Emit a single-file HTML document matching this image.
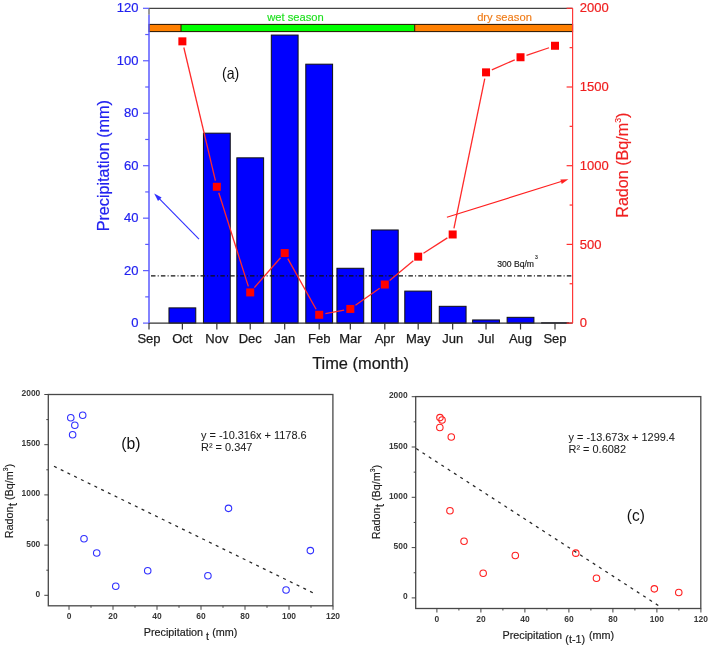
<!DOCTYPE html>
<html><head><meta charset="utf-8"><style>
html,body{margin:0;padding:0;background:#fff;width:709px;height:648px;overflow:hidden}
svg{display:block;will-change:transform}
</style></head><body>
<svg width="709" height="648" viewBox="0 0 709 648">
<rect width="709" height="648" fill="#fff"/>
<rect x="168.97" y="307.88" width="26.8" height="15.22" fill="#0000ff" stroke="#111" stroke-width="1"/>
<rect x="203.45" y="133.17" width="26.8" height="189.93" fill="#0000ff" stroke="#111" stroke-width="1"/>
<rect x="236.82" y="157.83" width="26.8" height="165.27" fill="#0000ff" stroke="#111" stroke-width="1"/>
<rect x="271.30" y="35.06" width="26.8" height="288.04" fill="#0000ff" stroke="#111" stroke-width="1"/>
<rect x="305.79" y="64.18" width="26.8" height="258.92" fill="#0000ff" stroke="#111" stroke-width="1"/>
<rect x="336.93" y="268.27" width="26.8" height="54.83" fill="#0000ff" stroke="#111" stroke-width="1"/>
<rect x="371.41" y="229.97" width="26.8" height="93.13" fill="#0000ff" stroke="#111" stroke-width="1"/>
<rect x="404.78" y="291.10" width="26.8" height="32.00" fill="#0000ff" stroke="#111" stroke-width="1"/>
<rect x="439.27" y="306.31" width="26.8" height="16.79" fill="#0000ff" stroke="#111" stroke-width="1"/>
<rect x="472.64" y="319.95" width="26.8" height="3.15" fill="#0000ff" stroke="#111" stroke-width="1"/>
<rect x="507.12" y="317.33" width="26.8" height="5.77" fill="#0000ff" stroke="#111" stroke-width="1"/>
<rect x="541.60" y="322.79" width="26.8" height="0.31" fill="#0000ff" stroke="#111" stroke-width="1"/>
<rect x="149.0" y="24.4" width="32.0" height="7.200000000000003" fill="#ff8000"/>
<rect x="181" y="24.4" width="233.7" height="7.200000000000003" fill="#00ff00"/>
<rect x="414.7" y="24.4" width="157.90000000000003" height="7.200000000000003" fill="#ff8000"/>
<rect x="149.0" y="24.4" width="423.6" height="7.200000000000003" fill="none" stroke="#221100" stroke-width="1"/>
<line x1="181" y1="24.4" x2="181" y2="31.6" stroke="#221100" stroke-width="1"/>
<line x1="414.7" y1="24.4" x2="414.7" y2="31.6" stroke="#221100" stroke-width="1"/>
<text x="295.5" y="20.7" font-family="Liberation Sans, sans-serif" font-size="11.2" fill="#1ee01e" stroke="#1ee01e" stroke-width="0.15" text-anchor="middle">wet season</text>
<text x="504.5" y="20.6" font-family="Liberation Sans, sans-serif" font-size="11.2" fill="#f07c18" stroke="#f07c18" stroke-width="0.15" text-anchor="middle">dry season</text>
<line x1="151" y1="275.88" x2="572.6" y2="275.88" stroke="#111" stroke-width="1.1" stroke-dasharray="4.5 2.2 1 2.2"/>
<text x="497.2" y="266.7" font-family="Liberation Sans, sans-serif" font-size="8.6" fill="#1c1c1c" stroke="#1c1c1c" stroke-width="0.18">300 Bq/m</text>
<text x="535" y="258.5" font-family="Liberation Sans, sans-serif" font-size="5" fill="#1c1c1c" stroke="#1c1c1c" stroke-width="0.18">3</text>
<line x1="183.82" y1="47.48" x2="215.40" y2="180.66" stroke="#ff2a2a" stroke-width="1.3"/>
<line x1="218.75" y1="192.80" x2="248.32" y2="286.40" stroke="#ff2a2a" stroke-width="1.3"/>
<line x1="254.37" y1="287.67" x2="280.55" y2="257.80" stroke="#ff2a2a" stroke-width="1.3"/>
<line x1="287.78" y1="258.56" x2="316.11" y2="309.26" stroke="#ff2a2a" stroke-width="1.3"/>
<line x1="325.38" y1="313.60" x2="344.14" y2="310.09" stroke="#ff2a2a" stroke-width="1.3"/>
<line x1="355.47" y1="305.30" x2="379.67" y2="288.18" stroke="#ff2a2a" stroke-width="1.3"/>
<line x1="389.65" y1="280.50" x2="413.35" y2="260.71" stroke="#ff2a2a" stroke-width="1.3"/>
<line x1="423.48" y1="253.27" x2="447.37" y2="237.89" stroke="#ff2a2a" stroke-width="1.3"/>
<line x1="453.94" y1="228.31" x2="484.77" y2="78.53" stroke="#ff2a2a" stroke-width="1.3"/>
<line x1="491.81" y1="69.83" x2="514.75" y2="59.78" stroke="#ff2a2a" stroke-width="1.3"/>
<line x1="526.49" y1="55.26" x2="549.02" y2="47.75" stroke="#ff2a2a" stroke-width="1.3"/>
<rect x="178.37" y="37.35" width="8" height="8" fill="#ff0000"/>
<rect x="212.85" y="182.79" width="8" height="8" fill="#ff0000"/>
<rect x="246.22" y="288.41" width="8" height="8" fill="#ff0000"/>
<rect x="280.70" y="249.06" width="8" height="8" fill="#ff0000"/>
<rect x="315.19" y="310.76" width="8" height="8" fill="#ff0000"/>
<rect x="346.33" y="304.93" width="8" height="8" fill="#ff0000"/>
<rect x="380.81" y="280.54" width="8" height="8" fill="#ff0000"/>
<rect x="414.18" y="252.68" width="8" height="8" fill="#ff0000"/>
<rect x="448.67" y="230.48" width="8" height="8" fill="#ff0000"/>
<rect x="482.04" y="68.36" width="8" height="8" fill="#ff0000"/>
<rect x="516.52" y="53.25" width="8" height="8" fill="#ff0000"/>
<rect x="551.00" y="41.76" width="8" height="8" fill="#ff0000"/>
<line x1="199" y1="239.2" x2="159" y2="198.3" stroke="#3030ff" stroke-width="1.1"/>
<polygon points="154.2,193.5 158.0,200.9 161.6,197.4" fill="#3030ff"/>
<line x1="446.9" y1="217.3" x2="562" y2="181.3" stroke="#ff2020" stroke-width="1.1"/>
<polygon points="568.4,179.3 560.4,179.6 561.7,184.0" fill="#ff2020"/>
<text x="222.0" y="78.9" font-family="Liberation Sans, sans-serif" font-size="16.5" fill="#111" textLength="17.3" lengthAdjust="spacingAndGlyphs">(a)</text>
<line x1="149.0" y1="8.3" x2="572.6" y2="8.3" stroke="#444" stroke-width="1.3"/>
<line x1="149.0" y1="323.1" x2="572.6" y2="323.1" stroke="#333" stroke-width="1.3"/>
<line x1="149.0" y1="8.3" x2="149.0" y2="14.8" stroke="#777" stroke-width="1.5"/>
<line x1="149.0" y1="14.8" x2="149.0" y2="323.1" stroke="#5a5aff" stroke-width="1.5"/>
<line x1="572.6" y1="8.3" x2="572.6" y2="323.1" stroke="#ff3838" stroke-width="1.2"/>
<line x1="143.0" y1="323.10" x2="149.0" y2="323.10" stroke="#5a5aff" stroke-width="1.2"/>
<text x="138.5" y="327.20" font-family="Liberation Sans, sans-serif" font-size="13" fill="#2222f0" stroke="#2222f0" stroke-width="0.2" text-anchor="end">0</text>
<line x1="145.2" y1="296.87" x2="149.0" y2="296.87" stroke="#5a5aff" stroke-width="1.2"/>
<line x1="143.0" y1="270.63" x2="149.0" y2="270.63" stroke="#5a5aff" stroke-width="1.2"/>
<text x="138.5" y="274.73" font-family="Liberation Sans, sans-serif" font-size="13" fill="#2222f0" stroke="#2222f0" stroke-width="0.2" text-anchor="end">20</text>
<line x1="145.2" y1="244.40" x2="149.0" y2="244.40" stroke="#5a5aff" stroke-width="1.2"/>
<line x1="143.0" y1="218.17" x2="149.0" y2="218.17" stroke="#5a5aff" stroke-width="1.2"/>
<text x="138.5" y="222.27" font-family="Liberation Sans, sans-serif" font-size="13" fill="#2222f0" stroke="#2222f0" stroke-width="0.2" text-anchor="end">40</text>
<line x1="145.2" y1="191.93" x2="149.0" y2="191.93" stroke="#5a5aff" stroke-width="1.2"/>
<line x1="143.0" y1="165.70" x2="149.0" y2="165.70" stroke="#5a5aff" stroke-width="1.2"/>
<text x="138.5" y="169.80" font-family="Liberation Sans, sans-serif" font-size="13" fill="#2222f0" stroke="#2222f0" stroke-width="0.2" text-anchor="end">60</text>
<line x1="145.2" y1="139.47" x2="149.0" y2="139.47" stroke="#5a5aff" stroke-width="1.2"/>
<line x1="143.0" y1="113.23" x2="149.0" y2="113.23" stroke="#5a5aff" stroke-width="1.2"/>
<text x="138.5" y="117.33" font-family="Liberation Sans, sans-serif" font-size="13" fill="#2222f0" stroke="#2222f0" stroke-width="0.2" text-anchor="end">80</text>
<line x1="145.2" y1="87.00" x2="149.0" y2="87.00" stroke="#5a5aff" stroke-width="1.2"/>
<line x1="143.0" y1="60.77" x2="149.0" y2="60.77" stroke="#5a5aff" stroke-width="1.2"/>
<text x="138.5" y="64.87" font-family="Liberation Sans, sans-serif" font-size="13" fill="#2222f0" stroke="#2222f0" stroke-width="0.2" text-anchor="end">100</text>
<line x1="145.2" y1="34.53" x2="149.0" y2="34.53" stroke="#5a5aff" stroke-width="1.2"/>
<line x1="143.0" y1="8.30" x2="149.0" y2="8.30" stroke="#5a5aff" stroke-width="1.2"/>
<text x="138.5" y="12.40" font-family="Liberation Sans, sans-serif" font-size="13" fill="#2222f0" stroke="#2222f0" stroke-width="0.2" text-anchor="end">120</text>
<line x1="566.6" y1="323.10" x2="572.6" y2="323.10" stroke="#ff3030" stroke-width="1.2"/>
<text x="579.8" y="327.20" font-family="Liberation Sans, sans-serif" font-size="13" fill="#f02020" stroke="#f02020" stroke-width="0.2">0</text>
<line x1="569.6" y1="283.75" x2="572.6" y2="283.75" stroke="#ff3030" stroke-width="1.2"/>
<line x1="566.6" y1="244.40" x2="572.6" y2="244.40" stroke="#ff3030" stroke-width="1.2"/>
<text x="579.8" y="248.50" font-family="Liberation Sans, sans-serif" font-size="13" fill="#f02020" stroke="#f02020" stroke-width="0.2">500</text>
<line x1="569.6" y1="205.05" x2="572.6" y2="205.05" stroke="#ff3030" stroke-width="1.2"/>
<line x1="566.6" y1="165.70" x2="572.6" y2="165.70" stroke="#ff3030" stroke-width="1.2"/>
<text x="579.8" y="169.80" font-family="Liberation Sans, sans-serif" font-size="13" fill="#f02020" stroke="#f02020" stroke-width="0.2">1000</text>
<line x1="569.6" y1="126.35" x2="572.6" y2="126.35" stroke="#ff3030" stroke-width="1.2"/>
<line x1="566.6" y1="87.00" x2="572.6" y2="87.00" stroke="#ff3030" stroke-width="1.2"/>
<text x="579.8" y="91.10" font-family="Liberation Sans, sans-serif" font-size="13" fill="#f02020" stroke="#f02020" stroke-width="0.2">1500</text>
<line x1="569.6" y1="47.65" x2="572.6" y2="47.65" stroke="#ff3030" stroke-width="1.2"/>
<line x1="566.6" y1="8.30" x2="572.6" y2="8.30" stroke="#ff3030" stroke-width="1.2"/>
<text x="579.8" y="12.40" font-family="Liberation Sans, sans-serif" font-size="13" fill="#f02020" stroke="#f02020" stroke-width="0.2">2000</text>
<line x1="149.00" y1="323.1" x2="149.00" y2="329.5" stroke="#333" stroke-width="1.2"/>
<text x="149.00" y="343.1" font-family="Liberation Sans, sans-serif" font-size="13" fill="#1a1a1a" stroke="#1a1a1a" stroke-width="0.25" text-anchor="middle">Sep</text>
<line x1="182.37" y1="323.1" x2="182.37" y2="329.5" stroke="#333" stroke-width="1.2"/>
<text x="182.37" y="343.1" font-family="Liberation Sans, sans-serif" font-size="13" fill="#1a1a1a" stroke="#1a1a1a" stroke-width="0.25" text-anchor="middle">Oct</text>
<line x1="216.85" y1="323.1" x2="216.85" y2="329.5" stroke="#333" stroke-width="1.2"/>
<text x="216.85" y="343.1" font-family="Liberation Sans, sans-serif" font-size="13" fill="#1a1a1a" stroke="#1a1a1a" stroke-width="0.25" text-anchor="middle">Nov</text>
<line x1="250.22" y1="323.1" x2="250.22" y2="329.5" stroke="#333" stroke-width="1.2"/>
<text x="250.22" y="343.1" font-family="Liberation Sans, sans-serif" font-size="13" fill="#1a1a1a" stroke="#1a1a1a" stroke-width="0.25" text-anchor="middle">Dec</text>
<line x1="284.70" y1="323.1" x2="284.70" y2="329.5" stroke="#333" stroke-width="1.2"/>
<text x="284.70" y="343.1" font-family="Liberation Sans, sans-serif" font-size="13" fill="#1a1a1a" stroke="#1a1a1a" stroke-width="0.25" text-anchor="middle">Jan</text>
<line x1="319.19" y1="323.1" x2="319.19" y2="329.5" stroke="#333" stroke-width="1.2"/>
<text x="319.19" y="343.1" font-family="Liberation Sans, sans-serif" font-size="13" fill="#1a1a1a" stroke="#1a1a1a" stroke-width="0.25" text-anchor="middle">Feb</text>
<line x1="350.33" y1="323.1" x2="350.33" y2="329.5" stroke="#333" stroke-width="1.2"/>
<text x="350.33" y="343.1" font-family="Liberation Sans, sans-serif" font-size="13" fill="#1a1a1a" stroke="#1a1a1a" stroke-width="0.25" text-anchor="middle">Mar</text>
<line x1="384.81" y1="323.1" x2="384.81" y2="329.5" stroke="#333" stroke-width="1.2"/>
<text x="384.81" y="343.1" font-family="Liberation Sans, sans-serif" font-size="13" fill="#1a1a1a" stroke="#1a1a1a" stroke-width="0.25" text-anchor="middle">Apr</text>
<line x1="418.18" y1="323.1" x2="418.18" y2="329.5" stroke="#333" stroke-width="1.2"/>
<text x="418.18" y="343.1" font-family="Liberation Sans, sans-serif" font-size="13" fill="#1a1a1a" stroke="#1a1a1a" stroke-width="0.25" text-anchor="middle">May</text>
<line x1="452.67" y1="323.1" x2="452.67" y2="329.5" stroke="#333" stroke-width="1.2"/>
<text x="452.67" y="343.1" font-family="Liberation Sans, sans-serif" font-size="13" fill="#1a1a1a" stroke="#1a1a1a" stroke-width="0.25" text-anchor="middle">Jun</text>
<line x1="486.04" y1="323.1" x2="486.04" y2="329.5" stroke="#333" stroke-width="1.2"/>
<text x="486.04" y="343.1" font-family="Liberation Sans, sans-serif" font-size="13" fill="#1a1a1a" stroke="#1a1a1a" stroke-width="0.25" text-anchor="middle">Jul</text>
<line x1="520.52" y1="323.1" x2="520.52" y2="329.5" stroke="#333" stroke-width="1.2"/>
<text x="520.52" y="343.1" font-family="Liberation Sans, sans-serif" font-size="13" fill="#1a1a1a" stroke="#1a1a1a" stroke-width="0.25" text-anchor="middle">Aug</text>
<line x1="555.00" y1="323.1" x2="555.00" y2="329.5" stroke="#333" stroke-width="1.2"/>
<text x="555.00" y="343.1" font-family="Liberation Sans, sans-serif" font-size="13" fill="#1a1a1a" stroke="#1a1a1a" stroke-width="0.25" text-anchor="middle">Sep</text>
<text x="360.6" y="369.1" font-family="Liberation Sans, sans-serif" font-size="16.4" fill="#1a1a1a" stroke="#1a1a1a" stroke-width="0.2" text-anchor="middle">Time (month)</text>
<text transform="translate(108.6,165.7) rotate(-90)" font-family="Liberation Sans, sans-serif" font-size="16.2" fill="#2222f0" stroke="#2222f0" stroke-width="0.2" text-anchor="middle">Precipitation (mm)</text>
<text transform="translate(628.2,217.7) rotate(-90)" font-family="Liberation Sans, sans-serif" font-size="16.1" fill="#f02020" stroke="#f02020" stroke-width="0.15">Radon (Bq/m<tspan font-size="8.8" dy="-7">3</tspan><tspan dy="7">)</tspan></text>
<rect x="48.3" y="394.5" width="284.59999999999997" height="211.29999999999995" fill="none" stroke="#484848" stroke-width="1.3"/>
<line x1="69.00" y1="605.8" x2="69.00" y2="609.8" stroke="#444" stroke-width="1"/>
<text x="69.00" y="619.30" font-family="Liberation Sans, sans-serif" font-size="9" font-weight="bold" fill="#383838" text-anchor="middle" textLength="4.7" lengthAdjust="spacingAndGlyphs">0</text>
<line x1="91.00" y1="605.8" x2="91.00" y2="607.8" stroke="#444" stroke-width="1"/>
<line x1="113.00" y1="605.8" x2="113.00" y2="609.8" stroke="#444" stroke-width="1"/>
<text x="113.00" y="619.30" font-family="Liberation Sans, sans-serif" font-size="9" font-weight="bold" fill="#383838" text-anchor="middle" textLength="9.4" lengthAdjust="spacingAndGlyphs">20</text>
<line x1="135.00" y1="605.8" x2="135.00" y2="607.8" stroke="#444" stroke-width="1"/>
<line x1="157.00" y1="605.8" x2="157.00" y2="609.8" stroke="#444" stroke-width="1"/>
<text x="157.00" y="619.30" font-family="Liberation Sans, sans-serif" font-size="9" font-weight="bold" fill="#383838" text-anchor="middle" textLength="9.4" lengthAdjust="spacingAndGlyphs">40</text>
<line x1="179.00" y1="605.8" x2="179.00" y2="607.8" stroke="#444" stroke-width="1"/>
<line x1="201.00" y1="605.8" x2="201.00" y2="609.8" stroke="#444" stroke-width="1"/>
<text x="201.00" y="619.30" font-family="Liberation Sans, sans-serif" font-size="9" font-weight="bold" fill="#383838" text-anchor="middle" textLength="9.4" lengthAdjust="spacingAndGlyphs">60</text>
<line x1="223.00" y1="605.8" x2="223.00" y2="607.8" stroke="#444" stroke-width="1"/>
<line x1="245.00" y1="605.8" x2="245.00" y2="609.8" stroke="#444" stroke-width="1"/>
<text x="245.00" y="619.30" font-family="Liberation Sans, sans-serif" font-size="9" font-weight="bold" fill="#383838" text-anchor="middle" textLength="9.4" lengthAdjust="spacingAndGlyphs">80</text>
<line x1="267.00" y1="605.8" x2="267.00" y2="607.8" stroke="#444" stroke-width="1"/>
<line x1="289.00" y1="605.8" x2="289.00" y2="609.8" stroke="#444" stroke-width="1"/>
<text x="289.00" y="619.30" font-family="Liberation Sans, sans-serif" font-size="9" font-weight="bold" fill="#383838" text-anchor="middle" textLength="14.1" lengthAdjust="spacingAndGlyphs">100</text>
<line x1="311.00" y1="605.8" x2="311.00" y2="607.8" stroke="#444" stroke-width="1"/>
<line x1="333.00" y1="605.8" x2="333.00" y2="609.8" stroke="#444" stroke-width="1"/>
<text x="333.00" y="619.30" font-family="Liberation Sans, sans-serif" font-size="9" font-weight="bold" fill="#383838" text-anchor="middle" textLength="14.1" lengthAdjust="spacingAndGlyphs">120</text>
<line x1="44.3" y1="595.30" x2="48.3" y2="595.30" stroke="#444" stroke-width="1"/>
<text x="40.30" y="596.80" font-family="Liberation Sans, sans-serif" font-size="9" font-weight="bold" fill="#383838" text-anchor="end" textLength="4.7" lengthAdjust="spacingAndGlyphs">0</text>
<line x1="46.3" y1="570.20" x2="48.3" y2="570.20" stroke="#444" stroke-width="1"/>
<line x1="44.3" y1="545.10" x2="48.3" y2="545.10" stroke="#444" stroke-width="1"/>
<text x="40.30" y="546.60" font-family="Liberation Sans, sans-serif" font-size="9" font-weight="bold" fill="#383838" text-anchor="end" textLength="14.1" lengthAdjust="spacingAndGlyphs">500</text>
<line x1="46.3" y1="520.00" x2="48.3" y2="520.00" stroke="#444" stroke-width="1"/>
<line x1="44.3" y1="494.90" x2="48.3" y2="494.90" stroke="#444" stroke-width="1"/>
<text x="40.30" y="496.40" font-family="Liberation Sans, sans-serif" font-size="9" font-weight="bold" fill="#383838" text-anchor="end" textLength="18.8" lengthAdjust="spacingAndGlyphs">1000</text>
<line x1="46.3" y1="469.80" x2="48.3" y2="469.80" stroke="#444" stroke-width="1"/>
<line x1="44.3" y1="444.70" x2="48.3" y2="444.70" stroke="#444" stroke-width="1"/>
<text x="40.30" y="446.20" font-family="Liberation Sans, sans-serif" font-size="9" font-weight="bold" fill="#383838" text-anchor="end" textLength="18.8" lengthAdjust="spacingAndGlyphs">1500</text>
<line x1="46.3" y1="419.60" x2="48.3" y2="419.60" stroke="#444" stroke-width="1"/>
<line x1="44.3" y1="394.50" x2="48.3" y2="394.50" stroke="#444" stroke-width="1"/>
<text x="40.30" y="396.00" font-family="Liberation Sans, sans-serif" font-size="9" font-weight="bold" fill="#383838" text-anchor="end" textLength="18.8" lengthAdjust="spacingAndGlyphs">2000</text>
<line x1="54.0" y1="466.3" x2="312.8" y2="592.7" stroke="#262626" stroke-width="1.25" stroke-dasharray="3 4.500"/>
<circle cx="82.7" cy="415.18" r="3.25" fill="none" stroke="#3030ff" stroke-width="1.1"/>
<circle cx="228.48" cy="508.35" r="3.25" fill="none" stroke="#3030ff" stroke-width="1.1"/>
<circle cx="207.91" cy="575.72" r="3.25" fill="none" stroke="#3030ff" stroke-width="1.1"/>
<circle cx="310.35" cy="550.62" r="3.25" fill="none" stroke="#3030ff" stroke-width="1.1"/>
<circle cx="286.05" cy="589.98" r="3.25" fill="none" stroke="#3030ff" stroke-width="1.1"/>
<circle cx="115.75" cy="586.26" r="3.25" fill="none" stroke="#3030ff" stroke-width="1.1"/>
<circle cx="147.71" cy="570.7" r="3.25" fill="none" stroke="#3030ff" stroke-width="1.1"/>
<circle cx="96.71" cy="552.93" r="3.25" fill="none" stroke="#3030ff" stroke-width="1.1"/>
<circle cx="84.01" cy="538.77" r="3.25" fill="none" stroke="#3030ff" stroke-width="1.1"/>
<circle cx="72.63" cy="434.76" r="3.25" fill="none" stroke="#3030ff" stroke-width="1.1"/>
<circle cx="74.82" cy="425.22" r="3.25" fill="none" stroke="#3030ff" stroke-width="1.1"/>
<circle cx="70.77" cy="417.69" r="3.25" fill="none" stroke="#3030ff" stroke-width="1.1"/>
<text x="201" y="438.7" font-family="Liberation Sans, sans-serif" font-size="10.95" fill="#1c1c1c" stroke="#1c1c1c" stroke-width="0.06">y = -10.316x + 1178.6</text>
<text x="201" y="450.5" font-family="Liberation Sans, sans-serif" font-size="10.95" fill="#1c1c1c" stroke="#1c1c1c" stroke-width="0.06">R² = 0.347</text>
<text x="121.3" y="448.59999999999997" font-family="Liberation Sans, sans-serif" font-size="16" fill="#111" textLength="19.2" lengthAdjust="spacingAndGlyphs">(b)</text>
<text transform="translate(13.2,538.2) rotate(-90)" font-family="Liberation Sans, sans-serif" font-size="10.8" fill="#1c1c1c" stroke="#1c1c1c" stroke-width="0.15">Radon<tspan font-size="12" dy="3.8">t</tspan><tspan dy="-3.8" font-size="10.8"> (Bq/m</tspan><tspan font-size="6.8" dy="-5">3</tspan><tspan dy="5" font-size="10.8">)</tspan></text>
<text x="143.7" y="636.1" font-family="Liberation Sans, sans-serif" font-size="10.8" fill="#1c1c1c" stroke="#1c1c1c" stroke-width="0.18">Precipitation</text>
<text x="206.0" y="639.6" font-family="Liberation Sans, sans-serif" font-size="10.8" fill="#1c1c1c" stroke="#1c1c1c" stroke-width="0.18">t</text>
<text x="212.2" y="636.1" font-family="Liberation Sans, sans-serif" font-size="10.8" fill="#1c1c1c" stroke="#1c1c1c" stroke-width="0.18">(mm)</text>
<rect x="415.7" y="396.6" width="285.09999999999997" height="211.89999999999998" fill="none" stroke="#484848" stroke-width="1.3"/>
<line x1="436.90" y1="608.5" x2="436.90" y2="612.5" stroke="#444" stroke-width="1"/>
<text x="436.90" y="622.00" font-family="Liberation Sans, sans-serif" font-size="9" font-weight="bold" fill="#383838" text-anchor="middle" textLength="4.7" lengthAdjust="spacingAndGlyphs">0</text>
<line x1="458.90" y1="608.5" x2="458.90" y2="610.5" stroke="#444" stroke-width="1"/>
<line x1="480.90" y1="608.5" x2="480.90" y2="612.5" stroke="#444" stroke-width="1"/>
<text x="480.90" y="622.00" font-family="Liberation Sans, sans-serif" font-size="9" font-weight="bold" fill="#383838" text-anchor="middle" textLength="9.4" lengthAdjust="spacingAndGlyphs">20</text>
<line x1="502.90" y1="608.5" x2="502.90" y2="610.5" stroke="#444" stroke-width="1"/>
<line x1="524.90" y1="608.5" x2="524.90" y2="612.5" stroke="#444" stroke-width="1"/>
<text x="524.90" y="622.00" font-family="Liberation Sans, sans-serif" font-size="9" font-weight="bold" fill="#383838" text-anchor="middle" textLength="9.4" lengthAdjust="spacingAndGlyphs">40</text>
<line x1="546.90" y1="608.5" x2="546.90" y2="610.5" stroke="#444" stroke-width="1"/>
<line x1="568.90" y1="608.5" x2="568.90" y2="612.5" stroke="#444" stroke-width="1"/>
<text x="568.90" y="622.00" font-family="Liberation Sans, sans-serif" font-size="9" font-weight="bold" fill="#383838" text-anchor="middle" textLength="9.4" lengthAdjust="spacingAndGlyphs">60</text>
<line x1="590.90" y1="608.5" x2="590.90" y2="610.5" stroke="#444" stroke-width="1"/>
<line x1="612.90" y1="608.5" x2="612.90" y2="612.5" stroke="#444" stroke-width="1"/>
<text x="612.90" y="622.00" font-family="Liberation Sans, sans-serif" font-size="9" font-weight="bold" fill="#383838" text-anchor="middle" textLength="9.4" lengthAdjust="spacingAndGlyphs">80</text>
<line x1="634.90" y1="608.5" x2="634.90" y2="610.5" stroke="#444" stroke-width="1"/>
<line x1="656.90" y1="608.5" x2="656.90" y2="612.5" stroke="#444" stroke-width="1"/>
<text x="656.90" y="622.00" font-family="Liberation Sans, sans-serif" font-size="9" font-weight="bold" fill="#383838" text-anchor="middle" textLength="14.1" lengthAdjust="spacingAndGlyphs">100</text>
<line x1="678.90" y1="608.5" x2="678.90" y2="610.5" stroke="#444" stroke-width="1"/>
<line x1="700.90" y1="608.5" x2="700.90" y2="612.5" stroke="#444" stroke-width="1"/>
<text x="700.90" y="622.00" font-family="Liberation Sans, sans-serif" font-size="9" font-weight="bold" fill="#383838" text-anchor="middle" textLength="14.1" lengthAdjust="spacingAndGlyphs">120</text>
<line x1="411.7" y1="597.90" x2="415.7" y2="597.90" stroke="#444" stroke-width="1"/>
<text x="407.70" y="599.40" font-family="Liberation Sans, sans-serif" font-size="9" font-weight="bold" fill="#383838" text-anchor="end" textLength="4.7" lengthAdjust="spacingAndGlyphs">0</text>
<line x1="413.7" y1="572.75" x2="415.7" y2="572.75" stroke="#444" stroke-width="1"/>
<line x1="411.7" y1="547.60" x2="415.7" y2="547.60" stroke="#444" stroke-width="1"/>
<text x="407.70" y="549.10" font-family="Liberation Sans, sans-serif" font-size="9" font-weight="bold" fill="#383838" text-anchor="end" textLength="14.1" lengthAdjust="spacingAndGlyphs">500</text>
<line x1="413.7" y1="522.45" x2="415.7" y2="522.45" stroke="#444" stroke-width="1"/>
<line x1="411.7" y1="497.30" x2="415.7" y2="497.30" stroke="#444" stroke-width="1"/>
<text x="407.70" y="498.80" font-family="Liberation Sans, sans-serif" font-size="9" font-weight="bold" fill="#383838" text-anchor="end" textLength="18.8" lengthAdjust="spacingAndGlyphs">1000</text>
<line x1="413.7" y1="472.15" x2="415.7" y2="472.15" stroke="#444" stroke-width="1"/>
<line x1="411.7" y1="447.00" x2="415.7" y2="447.00" stroke="#444" stroke-width="1"/>
<text x="407.70" y="448.50" font-family="Liberation Sans, sans-serif" font-size="9" font-weight="bold" fill="#383838" text-anchor="end" textLength="18.8" lengthAdjust="spacingAndGlyphs">1500</text>
<line x1="413.7" y1="421.85" x2="415.7" y2="421.85" stroke="#444" stroke-width="1"/>
<line x1="411.7" y1="396.70" x2="415.7" y2="396.70" stroke="#444" stroke-width="1"/>
<text x="407.70" y="398.20" font-family="Liberation Sans, sans-serif" font-size="9" font-weight="bold" fill="#383838" text-anchor="end" textLength="18.8" lengthAdjust="spacingAndGlyphs">2000</text>
<line x1="416.2" y1="448.6" x2="658.3" y2="605.5" stroke="#262626" stroke-width="1.25" stroke-dasharray="3 4.513"/>
<circle cx="439.95" cy="417.62" r="3.25" fill="none" stroke="#ff2020" stroke-width="1.1"/>
<circle cx="449.96" cy="510.78" r="3.25" fill="none" stroke="#ff2020" stroke-width="1.1"/>
<circle cx="596.48" cy="578.28" r="3.25" fill="none" stroke="#ff2020" stroke-width="1.1"/>
<circle cx="575.8" cy="553.13" r="3.25" fill="none" stroke="#ff2020" stroke-width="1.1"/>
<circle cx="678.76" cy="592.57" r="3.25" fill="none" stroke="#ff2020" stroke-width="1.1"/>
<circle cx="654.34" cy="588.85" r="3.25" fill="none" stroke="#ff2020" stroke-width="1.1"/>
<circle cx="483.18" cy="573.25" r="3.25" fill="none" stroke="#ff2020" stroke-width="1.1"/>
<circle cx="515.3" cy="555.45" r="3.25" fill="none" stroke="#ff2020" stroke-width="1.1"/>
<circle cx="464.04" cy="541.26" r="3.25" fill="none" stroke="#ff2020" stroke-width="1.1"/>
<circle cx="451.28" cy="437.04" r="3.25" fill="none" stroke="#ff2020" stroke-width="1.1"/>
<circle cx="439.84" cy="427.48" r="3.25" fill="none" stroke="#ff2020" stroke-width="1.1"/>
<circle cx="442.04" cy="419.94" r="3.25" fill="none" stroke="#ff2020" stroke-width="1.1"/>
<text x="568.5" y="440.79999999999995" font-family="Liberation Sans, sans-serif" font-size="10.95" fill="#1c1c1c" stroke="#1c1c1c" stroke-width="0.06">y = -13.673x + 1299.4</text>
<text x="568.5" y="453.1" font-family="Liberation Sans, sans-serif" font-size="10.95" fill="#1c1c1c" stroke="#1c1c1c" stroke-width="0.06">R² = 0.6082</text>
<text x="626.8" y="521.1" font-family="Liberation Sans, sans-serif" font-size="16" fill="#111" textLength="18.0" lengthAdjust="spacingAndGlyphs">(c)</text>
<text transform="translate(380.2,539.2) rotate(-90)" font-family="Liberation Sans, sans-serif" font-size="10.8" fill="#1c1c1c" stroke="#1c1c1c" stroke-width="0.15">Radon<tspan font-size="12" dy="3.8">t</tspan><tspan dy="-3.8" font-size="10.8"> (Bq/m</tspan><tspan font-size="6.8" dy="-5">3</tspan><tspan dy="5" font-size="10.8">)</tspan></text>
<text x="502.5" y="639" font-family="Liberation Sans, sans-serif" font-size="10.8" fill="#1c1c1c" stroke="#1c1c1c" stroke-width="0.18">Precipitation</text>
<text x="565.3" y="642.5" font-family="Liberation Sans, sans-serif" font-size="10.8" fill="#1c1c1c" stroke="#1c1c1c" stroke-width="0.18">(t-1)</text>
<text x="589.0" y="639" font-family="Liberation Sans, sans-serif" font-size="10.8" fill="#1c1c1c" stroke="#1c1c1c" stroke-width="0.18">(mm)</text>
</svg></body></html>
